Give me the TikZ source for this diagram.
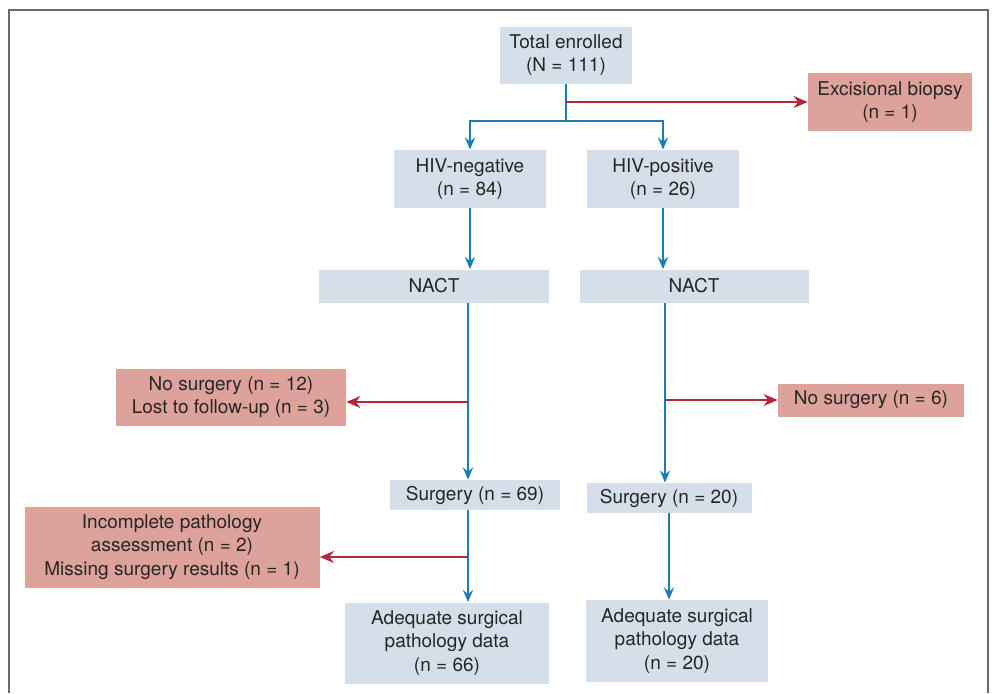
\documentclass[tikz,border=0pt]{standalone}
\usepackage{fontspec}
\setmainfont{TeX Gyre Heros}
\usetikzlibrary{arrows.meta, positioning}
\definecolor{boxblue}{HTML}{D5DFEA}
\definecolor{boxred}{HTML}{DDA39A}
\definecolor{lineblue}{HTML}{1A7DB5}
\definecolor{linered}{HTML}{B0283A}
\definecolor{framegray}{HTML}{6B6B6B}

\begin{document}
\begin{tikzpicture}[x=0.5pt, y=-0.5pt,
    every node/.style={font=\fontsize{9.5}{11.6}\selectfont, align=center, inner sep=2pt, text=black!85},
    bluebox/.style={fill=boxblue},
    redbox/.style={fill=boxred},
    flow/.style={lineblue, line width=1pt, -{Stealth[length=6pt, width=5pt]}},
    exitarrow/.style={linered, line width=1pt, -{Stealth[length=7pt, width=6pt]}}]
  \useasboundingbox (0,0) rectangle (993,693);

  % Open frame (no bottom edge)
  \draw[framegray, line width=1pt] (9,693) -- (9,10) -- (988,10) -- (988,693);

  % Top of the chart
  \node[bluebox, minimum width=66pt, minimum height=28.5pt] (tot) at (566,55) {Total enrolled\\(N = 111)};
  \node[redbox, minimum width=82pt, minimum height=29pt] (bio) at (890,102) {Excisional biopsy\\(n = 1)};

  % Two arms
  \node[bluebox, minimum width=76pt, minimum height=29pt] (neg) at (470,179) {HIV-negative\\(n = 84)};
  \node[bluebox, minimum width=76pt, minimum height=29pt] (pos) at (663,179) {HIV-positive\\(n = 26)};
  \node[bluebox, minimum width=115pt, minimum height=16.5pt] (nactL) at (434,286) {NACT};
  \node[bluebox, minimum width=114.5pt, minimum height=16.5pt] (nactR) at (694,286) {NACT};

  % Losses before surgery
  \node[redbox, minimum width=115pt, minimum height=28.5pt] (nosL) at (231,397) {No surgery (n = 12)\\Lost to follow-up (n = 3)};
  \node[redbox, minimum width=93pt, minimum height=16.5pt] (nosR) at (871,400) {No surgery (n = 6)};

  % Surgery
  \node[bluebox, minimum width=85pt, minimum height=15pt] (surgL) at (475,495) {Surgery (n = 69)};
  \node[bluebox, minimum width=82.5pt, minimum height=15pt] (surgR) at (669,498) {Surgery (n = 20)};
  \node[redbox, minimum width=147.5pt, minimum height=40.5pt] (incL) at (172,547) {Incomplete pathology\\assessment (n = 2)\\Missing surgery results (n = 1)};

  % Final counts
  \node[bluebox, minimum width=102pt, minimum height=40.5pt] (adqL) at (447,643) {Adequate surgical\\pathology data\\(n = 66)};
  \node[bluebox, minimum width=91pt, minimum height=41pt] (adqR) at (677,641) {Adequate surgical\\pathology data\\(n = 20)};

  % Branch points
  \coordinate (split) at (566,121);
  \coordinate (bioY) at (566,102);
  \coordinate (lossL) at (468,402);
  \coordinate (lossR) at (665,400);
  \coordinate (incY) at (468,557);

  % Blue flow
  \draw[lineblue, line width=1pt] (tot.south) -- (split);
  \draw[flow] (split) -| (neg.north);
  \draw[flow] (split) -| (pos.north);
  \draw[flow] (neg.south) -- (neg.south |- nactL.north);
  \draw[flow] (pos.south) -- (pos.south |- nactR.north);
  \draw[flow] (lossL |- nactL.south) -- (lossL |- surgL.north);
  \draw[flow] (lossR |- nactR.south) -- (lossR |- surgR.north);
  \draw[flow] (incY |- surgL.south) -- (incY |- adqL.north);
  \draw[flow] (surgR.south) -- (surgR.south |- adqR.north);

  % Red exits
  \draw[exitarrow] (bioY) -- (bio.west);
  \draw[exitarrow] (lossL) -- (lossL -| nosL.east);
  \draw[exitarrow] (lossR) -- (lossR -| nosR.west);
  \draw[exitarrow] (incY) -- (incY -| incL.east);
\end{tikzpicture}
\end{document}
